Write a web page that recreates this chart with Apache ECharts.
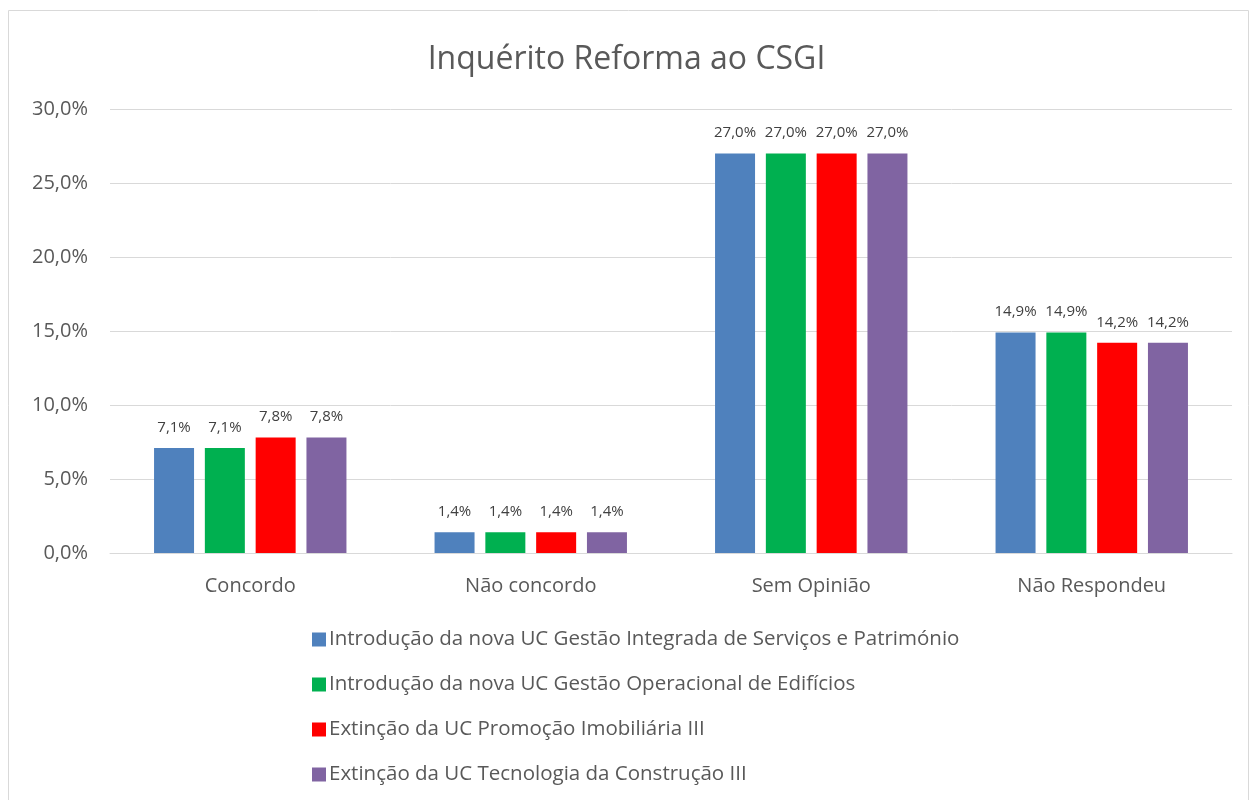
<!DOCTYPE html>
<html>
<head>
<meta charset="utf-8">
<title>Inquérito Reforma ao CSGI</title>
<script src="https://cdn.jsdelivr.net/npm/echarts@6/dist/echarts.min.js"></script>
<style>
  html, body { margin: 0; padding: 0; background: #fff; }
  #chart { width: 1253px; height: 800px; }
</style>
</head>
<body>
<div id="chart"></div>
<script>
// categorias do inquérito
const categories = ['Concordo', 'Não concordo', 'Sem Opinião', 'Não Respondeu'];

// uma série por proposta (valores em %)
const seriesNames = [
  'Introdução da nova UC Gestão Integrada de Serviços e Património',
  'Introdução da nova UC Gestão Operacional de Edifícios',
  'Extinção da UC Promoção Imobiliária III',
  'Extinção da UC Tecnologia da Construção III'
];
const gestaoIntegrada = [7.1, 1.4, 27.0, 14.9];
const gestaoOperacional = [7.1, 1.4, 27.0, 14.9];
const promocaoImobiliaria = [7.8, 1.4, 27.0, 14.2];
const tecnologiaConstrucao = [7.8, 1.4, 27.0, 14.2];

const colors = ['#4f81bd', '#00b050', '#ff0000', '#8064a2'];
const seriesData = [gestaoIntegrada, gestaoOperacional, promocaoImobiliaria, tecnologiaConstrucao];

const FONT = '"Open Sans", "Liberation Sans", sans-serif';
const pct = v => v.toFixed(1).replace('.', ',') + '%';

const chart = echarts.init(document.getElementById('chart'));

chart.setOption({
  animation: false,
  color: colors,
  textStyle: { fontFamily: FONT },
  title: {
    text: 'Inquérito Reforma ao CSGI',
    left: 'center',
    top: 39,
    textStyle: { fontSize: 32, fontWeight: 'normal', color: '#595959', fontFamily: FONT }
  },
  graphic: [{
    type: 'rect',
    shape: { x: 8.5, y: 10.5, width: 1240, height: 800 },
    style: { fill: 'none', stroke: '#d9d9d9', lineWidth: 1 },
    silent: true
  }],
  grid: { left: 110, right: 21, top: 109, bottom: 247, containLabel: false },
  xAxis: {
    type: 'category',
    data: categories,
    axisTick: { show: false },
    axisLine: { lineStyle: { color: '#d9d9d9', width: 1 } },
    axisLabel: { color: '#595959', fontSize: 20, margin: 23, fontFamily: FONT }
  },
  yAxis: {
    type: 'value',
    min: 0,
    max: 30,
    interval: 5,
    axisLine: { show: false },
    axisTick: { show: false },
    splitLine: { lineStyle: { color: '#d9d9d9', width: 1 } },
    axisLabel: {
      color: '#595959',
      fontSize: 20,
      margin: 22,
      fontFamily: FONT,
      formatter: v => pct(v)
    }
  },
  legend: {
    orient: 'vertical',
    left: 307,
    top: 624,
    icon: 'rect',
    itemWidth: 14,
    itemHeight: 14,
    itemGap: 24,
    data: seriesNames,
    textStyle: { color: '#595959', fontSize: 20.5, fontFamily: FONT, padding: [0, 0, 0, -2] }
  },
  series: seriesData.map((data, i) => ({
    name: seriesNames[i],
    type: 'bar',
    data: data,
    barWidth: 40,
    barGap: '27%',
    label: {
      show: true,
      position: 'top',
      distance: 13,
      color: '#404040',
      fontSize: 15,
      fontFamily: FONT,
      formatter: p => pct(p.value)
    }
  }))
});
</script>
</body>
</html>
